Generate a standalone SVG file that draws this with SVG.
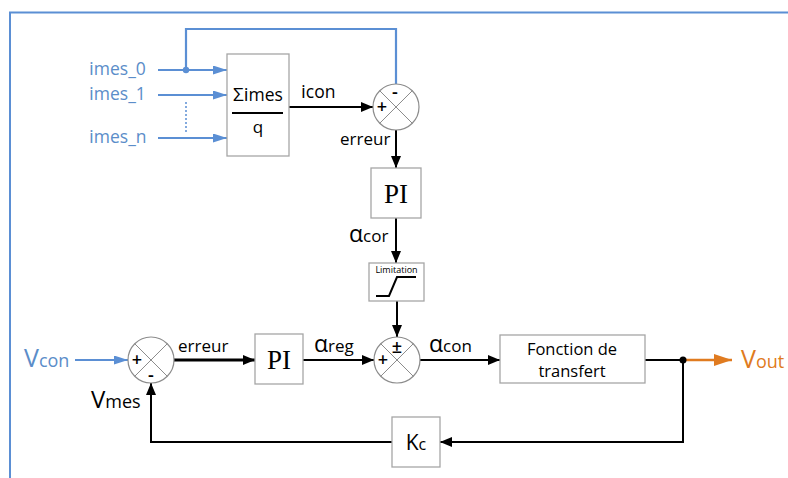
<svg xmlns="http://www.w3.org/2000/svg" width="788" height="478" viewBox="0 0 788 478">
<style>
.box{fill:#fff;stroke:#a6a6a6;stroke-width:1.3}
.sum{fill:#fff;stroke:#8c8c8c;stroke-width:1.2}
.x{stroke:#8c8c8c;stroke-width:1}
.ln{fill:none;stroke:#000;stroke-width:2}
.bl{fill:none;stroke:#5b8fd4;stroke-width:2.2}
.t{font-family:"Open Sans","Noto Sans",sans-serif;fill:#000}
.tb{font-family:"Open Sans","Noto Sans",sans-serif;fill:#5b8dc9}
.to{font-family:"Open Sans","Noto Sans",sans-serif;fill:#e07b20}
.pi{font-family:"Liberation Serif",serif;font-size:27px;fill:#000}
.sg{font-family:"Open Sans","Noto Sans",sans-serif;fill:#000;font-size:18px;font-weight:600}
</style>
<defs>
<marker id="ah" viewBox="0 0 12 10" refX="12" refY="5" markerWidth="12" markerHeight="10" markerUnits="userSpaceOnUse" orient="auto"><path d="M0,0 L12,5 L0,10 z" fill="#000"/></marker>
<marker id="ahb" viewBox="0 0 14 9" refX="14" refY="4.5" markerWidth="14" markerHeight="9" markerUnits="userSpaceOnUse" orient="auto"><path d="M0,0 L14,4.5 L0,9 z" fill="#5b8fd4"/></marker>
<marker id="aho" viewBox="0 0 18 12" refX="18" refY="6" markerWidth="18" markerHeight="12" markerUnits="userSpaceOnUse" orient="auto"><path d="M0,0 L18,6 L0,12 z" fill="#e07b20"/></marker>
</defs>
<rect width="788" height="478" fill="#fff"/>
<path d="M10,478 V12.5 H788" fill="none" stroke="#5b8fd4" stroke-width="2"/>

<g id="connectors">
  <path class="bl" d="M158,70 H227" marker-end="url(#ahb)"/>
  <path class="bl" d="M158,95 H227" marker-end="url(#ahb)"/>
  <path class="bl" d="M158,138 H227" marker-end="url(#ahb)"/>
  <path d="M186,102 V133" stroke="#5b8fd4" stroke-width="1.5" stroke-dasharray="2,2" fill="none"/>
  <path class="bl" d="M186,70 V29 H396 V84"/>
  <circle cx="186" cy="70" r="3.2" fill="#5b8fd4"/>
  <path class="ln" d="M289,107 H373" marker-end="url(#ah)"/>
  <path class="ln" d="M396,130 V168" marker-end="url(#ah)"/>
  <path class="ln" d="M396,218 V263" marker-end="url(#ah)"/>
  <path class="ln" d="M397,301 V337" marker-end="url(#ah)"/>
  <path class="bl" d="M75,360 H128" marker-end="url(#ahb)"/>
  <path d="M174,360 H255" fill="none" stroke="#000" stroke-width="3" marker-end="url(#ah)"/>
  <path class="ln" d="M303,360 H374" marker-end="url(#ah)"/>
  <path class="ln" d="M420,360 H500" marker-end="url(#ah)"/>
  <path class="ln" d="M645,360 H683"/>
  <path d="M683,360 H732" fill="none" stroke="#e07b20" stroke-width="2.5" marker-end="url(#aho)"/>
  <path class="ln" d="M683,360 V442 H440" marker-end="url(#ah)"/>
  <path class="ln" d="M392,442 H151 V383" marker-end="url(#ah)"/>
  <circle cx="683" cy="360" r="3.5" fill="#000"/>
</g>

<g id="inputs">
  <text class="tb" x="89" y="75" font-size="19">i<tspan font-size="17.5">mes_0</tspan></text>
  <text class="tb" x="89" y="100" font-size="19">i<tspan font-size="17.5">mes_1</tspan></text>
  <text class="tb" x="89" y="143" font-size="19">i<tspan font-size="17.5">mes_n</tspan></text>
</g>

<g id="sum-block">
  <rect class="box" x="227" y="54" width="62" height="102"/>
  <text class="t" x="258" y="101" font-size="19" text-anchor="middle">Σi<tspan font-size="17.5">mes</tspan></text>
  <path d="M232,113 H283" stroke="#000" stroke-width="2"/>
  <text class="t" x="258" y="133" font-size="17" text-anchor="middle">q</text>
</g>
<text class="t" x="301" y="98" font-size="19">i<tspan font-size="17.5">con</tspan></text>

<g id="sum1">
  <circle class="sum" cx="396" cy="107" r="23"/>
  <path class="x" d="M379.7,90.7 L412.3,123.3 M412.3,90.7 L379.7,123.3"/>
  <text class="sg" x="395" y="98" text-anchor="middle">-</text>
  <text class="sg" x="382" y="113" text-anchor="middle">+</text>
</g>
<text class="t" x="340" y="145" font-size="17">erreur</text>

<g id="pi1">
  <rect class="box" x="371" y="168" width="50" height="50"/>
  <text class="pi" x="396" y="203" text-anchor="middle">PI</text>
</g>
<text class="t" x="349" y="242" font-size="23">α<tspan font-size="17">cor</tspan></text>

<g id="limitation">
  <rect class="box" x="369" y="263" width="55" height="38"/>
  <text class="t" x="396.5" y="273" font-size="9" text-anchor="middle">Limitation</text>
  <polyline points="376,296 389,296 397,277 416,277" fill="none" stroke="#000" stroke-width="2"/>
</g>

<g id="vcon">
  <text class="tb" x="24" y="367" font-size="25">V<tspan font-size="18">con</tspan></text>
</g>

<g id="sum2">
  <circle class="sum" cx="151" cy="360" r="23"/>
  <path class="x" d="M134.7,343.7 L167.3,376.3 M167.3,343.7 L134.7,376.3"/>
  <text class="sg" x="137" y="366" text-anchor="middle">+</text>
  <text class="sg" x="151" y="381" text-anchor="middle">-</text>
</g>
<text class="t" x="178" y="352" font-size="17">erreur</text>
<text class="t" x="91" y="408" font-size="24">V<tspan font-size="18">mes</tspan></text>

<g id="pi2">
  <rect class="box" x="255" y="334" width="48" height="50"/>
  <text class="pi" x="279" y="369" text-anchor="middle">PI</text>
</g>
<text class="t" x="314" y="352" font-size="23">α<tspan font-size="17">reg</tspan></text>

<g id="sum3">
  <circle class="sum" cx="397" cy="360" r="23"/>
  <path class="x" d="M380.7,343.7 L413.3,376.3 M413.3,343.7 L380.7,376.3"/>
  <text class="sg" x="397" y="353" text-anchor="middle">±</text>
  <text class="sg" x="383" y="366" text-anchor="middle">+</text>
</g>
<text class="t" x="429" y="352" font-size="23">α<tspan font-size="17">con</tspan></text>

<g id="transfer">
  <rect class="box" x="500" y="335" width="145" height="48"/>
  <text class="t" x="572" y="355" font-size="16.5" text-anchor="middle">Fonction de</text>
  <text class="t" x="572" y="377" font-size="16.5" text-anchor="middle">transfert</text>
</g>

<g id="vout">
  <text class="to" x="741" y="368" font-size="25">V<tspan font-size="18">out</tspan></text>
</g>

<g id="kc">
  <rect class="box" x="392" y="417" width="48" height="50"/>
  <text class="t" x="416" y="450" font-size="21" text-anchor="middle">K<tspan font-size="16">c</tspan></text>
</g>
</svg>
